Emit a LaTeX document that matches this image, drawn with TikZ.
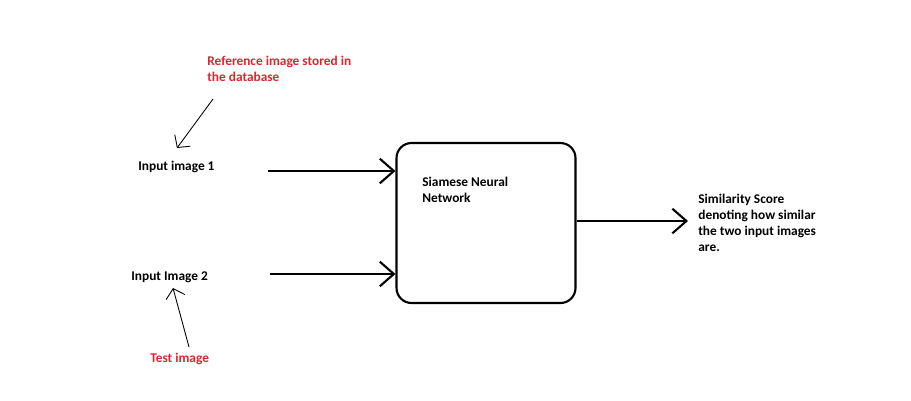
\documentclass[tikz,border=0pt]{standalone}
\usepackage{fontspec}
\setmainfont{Carlito}
\usetikzlibrary{arrows.meta}

\definecolor{notered}{RGB}{215,40,50}

\tikzset{
  lbl/.style={anchor=base west, align=left, inner sep=0pt,
    font=\fontsize{7.6pt}{9pt}\selectfont\bfseries},
  note/.style={lbl, text=notered},
  thick arrow/.style={line width=1.2pt, -{Straight Barb[length=8pt,width=14pt,line width=1.2pt]}},
  thin arrow/.style={line width=0.5pt, -{Straight Barb[length=5pt,width=11pt,line width=0.5pt]}}
}

\begin{document}
\begin{tikzpicture}[x=0.02cm,y=-0.02cm]
\useasboundingbox (0,0) rectangle (911,400);

% labels (base = last line)
\node[lbl] (in1) at (138,170) {Input image 1};
\node[lbl] (in2) at (131,280) {Input Image 2};
\node[note] (ref) at (207,81) {Reference image stored in\\the database};
\node[note] (test) at (150,362.7) {Test image};
\node[lbl] (out) at (698,251) {Similarity Score\\denoting how similar\\the two input images\\are.};

% network box
\node[draw, line width=1.2pt, rounded corners=0.3cm, minimum width=3.58cm,
  minimum height=3.2cm, inner sep=0pt] (snn) at (486,223) {};
\node[lbl] (snnlbl) at (422,202) {Siamese Neural\\Network};

% arrows into and out of the box
\coordinate (a1) at (268,171);
\coordinate (a2) at (270,274);
\coordinate (a3) at (688,221);
\draw[thick arrow] (a1) -- (a1 -| snn.west);
\draw[thick arrow] (a2) -- (a2 -| snn.west);
\draw[thick arrow] (a3 -| snn.east) -- (a3);

% pointers from the notes
\coordinate (r1) at (213,99);
\coordinate (r2) at (177,148);
\coordinate (t1) at (189,347);
\coordinate (t2) at (173,288);
\draw[thin arrow] (r1) -- (r2);
\draw[thin arrow] (t1) -- (t2);
\end{tikzpicture}
\end{document}
